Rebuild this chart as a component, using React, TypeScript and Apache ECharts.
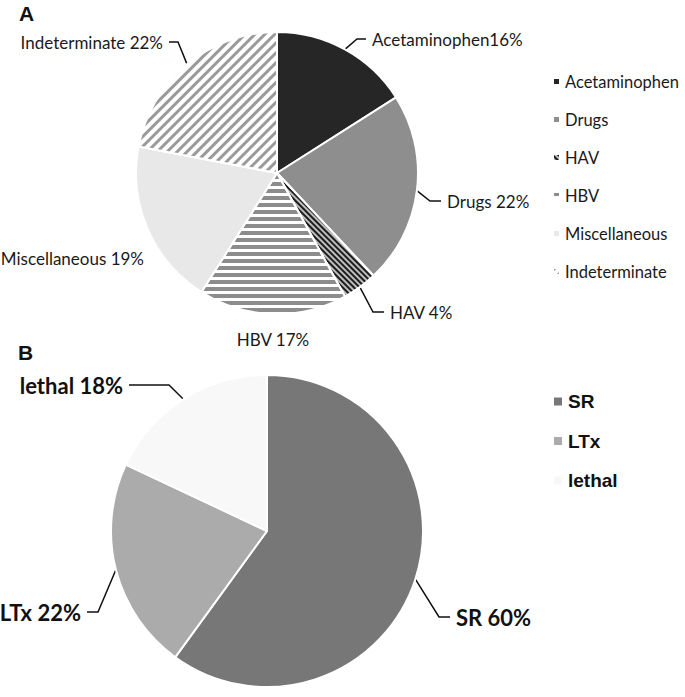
import React, { useEffect, useRef } from 'react';
import * as echarts from 'echarts';

// ---- data ----
const causeNames = ['Acetaminophen', 'Drugs', 'HAV', 'HBV', 'Miscellaneous', 'Indeterminate'];
const causeValues = [16, 22, 4, 17, 19, 22];
const causeSeparators = ['', ' ', ' ', ' ', ' ', ' '];

const outcomeNames = ['SR', 'LTx', 'lethal'];
const outcomeValues = [60, 22, 18];

// ---- label placement (text edge x, text middle y, alignment) ----
const causeLabelPlace: [number, number, string][] = [
  [372, 39, 'left'],
  [447, 201, 'left'],
  [390, 312, 'left'],
  [273, 339, 'center'],
  [144, 258, 'right'],
  [163, 42, 'right'],
];
const causeLine2 = [9, 11, 11, 0, 0, 9];
const causeLineShown = [true, true, true, false, false, true];

const outcomeLabelPlace: [number, number, string][] = [
  [456, 617, 'left'],
  [81, 612, 'right'],
  [123, 385, 'right'],
];
const outcomeLine2 = [11, 11, 40];

const PAD = 6;
function placeLabel(p: [number, number, string]) {
  const [x, y, align] = p;
  return {
    x: align === 'left' ? x - PAD : align === 'right' ? x + PAD : x,
    y,
    align,
    verticalAlign: 'middle',
  };
}

export default function App() {
  const ref = useRef<HTMLDivElement>(null);
  useEffect(() => {
    const chart = echarts.init(ref.current!, null, { renderer: 'svg' });

    const causeStyles: any[] = [
      { color: '#262626' },
      { color: '#8e8e8e' },
      {
        color: '#bdbdbd',
        decal: { symbol: 'rect', color: '#1c1c1c', dashArrayX: [1, 0], dashArrayY: [2, 2], rotation: Math.PI / 4 },
      },
      {
        color: '#ffffff',
        decal: { symbol: 'rect', color: '#8c8c8c', dashArrayX: [1, 0], dashArrayY: [4, 3], rotation: 0 },
      },
      { color: '#e8e8e8' },
      {
        color: '#ffffff',
        decal: { symbol: 'rect', color: '#9a9a9a', dashArrayX: [1, 0], dashArrayY: [3, 3.5], rotation: -Math.PI / 4 },
      },
    ];
    const outcomeColors = ['#777777', '#ababab', '#f8f8f8'];

    const labelA = {
      fontFamily: 'Lato',
      fontSize: 17,
      color: '#1a1a1a',
      padding: [0, PAD, 0, PAD],
      backgroundColor: 'rgba(255,255,255,0)',
    };
    const labelB = {
      fontFamily: 'Lato',
      fontWeight: 'bold',
      fontSize: 22,
      color: '#111111',
      padding: [0, PAD, 0, PAD],
      backgroundColor: 'rgba(255,255,255,0)',
    };

    chart.setOption({
      animation: false,
      backgroundColor: '#ffffff',
      title: [
        {
          text: 'A', left: 19, top: 3, padding: 0,
          textStyle: { fontFamily: 'Liberation Sans', fontWeight: 'bold', fontSize: 21, color: '#111' },
        },
        {
          text: 'B', left: 18, top: 342, padding: 0,
          textStyle: { fontFamily: 'Liberation Sans', fontWeight: 'bold', fontSize: 21, color: '#111' },
        },
      ],
      legend: [
        {
          orient: 'vertical',
          left: 552,
          top: 73,
          padding: 0,
          itemWidth: 7,
          itemHeight: 7,
          itemGap: 21,
          icon: 'rect',
          selectedMode: false,
          data: causeNames,
          textStyle: { fontFamily: 'Lato', fontSize: 16.5, color: '#1a1a1a' },
        },
        {
          orient: 'vertical',
          left: 552,
          top: 392,
          padding: 0,
          itemWidth: 10,
          itemHeight: 10,
          itemGap: 20.5,
          icon: 'rect',
          selectedMode: false,
          data: outcomeNames,
          textStyle: { fontFamily: 'Liberation Sans', fontWeight: 'bold', fontSize: 19, color: '#111' },
        },
      ],
      series: [
        {
          type: 'pie',
          center: [277, 173],
          radius: 141,
          startAngle: 90,
          clockwise: true,
          avoidLabelOverlap: false,
          itemStyle: { borderColor: '#ffffff', borderWidth: 2 },
          label: { show: true, position: 'outside', ...labelA },
          labelLine: { show: true, length: 10, length2: 10, lineStyle: { color: '#111', width: 1.5 } },
          labelLayout: (p: any) => placeLabel(causeLabelPlace[p.dataIndex]),
          emphasis: { disabled: true },
          data: causeNames.map((name, i) => ({
            name,
            value: causeValues[i],
            itemStyle: causeStyles[i],
            label: { formatter: `${name}${causeSeparators[i]}${causeValues[i]}%` },
            labelLine: { show: causeLineShown[i], length2: causeLine2[i] },
          })),
        },
        {
          type: 'pie',
          center: [267, 531],
          radius: 156,
          startAngle: 90,
          clockwise: true,
          avoidLabelOverlap: false,
          itemStyle: { borderColor: '#ffffff', borderWidth: 2 },
          label: { show: true, position: 'outside', ...labelB },
          labelLine: { show: true, length: 10, length2: 10, lineStyle: { color: '#111', width: 1.5 } },
          labelLayout: (p: any) => placeLabel(outcomeLabelPlace[p.dataIndex]),
          emphasis: { disabled: true },
          data: outcomeNames.map((name, i) => ({
            name,
            value: outcomeValues[i],
            itemStyle: { color: outcomeColors[i] },
            label: { formatter: `${name} ${outcomeValues[i]}%` },
            labelLine: { length2: outcomeLine2[i] },
          })),
        },
      ],
    });
    return () => chart.dispose();
  }, []);
  return (
    <div
      ref={ref}
      style={{ position: 'fixed', left: 0, top: 0, width: 685, height: 697, background: '#fff' }}
    />
  );
}
